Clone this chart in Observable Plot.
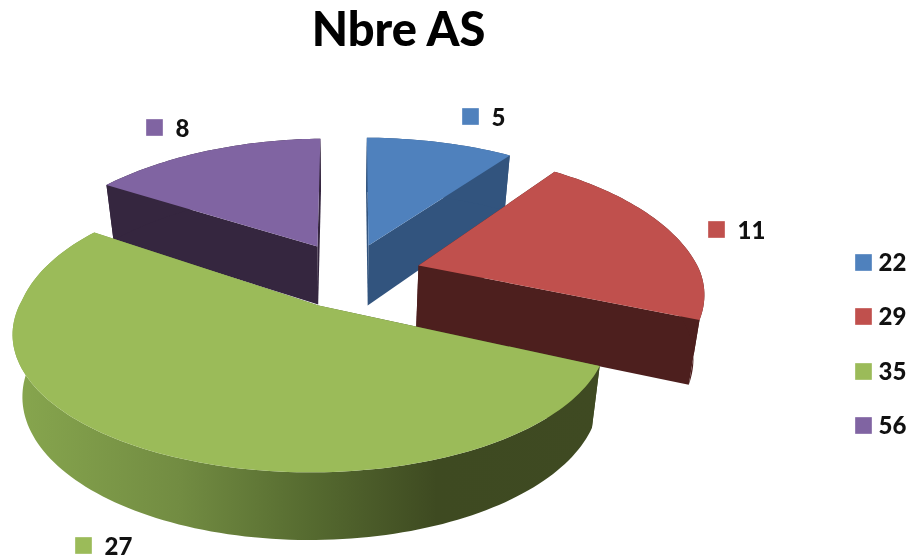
<!DOCTYPE html>
<html>
<head>
<meta charset="utf-8">
<script src="https://cdn.jsdelivr.net/npm/d3@7"></script>
<script src="https://cdn.jsdelivr.net/npm/@observablehq/plot@0.6"></script>
<style>
html,body{margin:0;padding:0;background:#fff}
svg{display:block;filter:blur(.35px)}
</style>
</head>
<body>
<div id="chart"></div>
<script>
// Data
const chartTitle = "Nbre AS";
const sliceValues = [5, 11, 27, 8];
const legendLabels = [22, 29, 35, 56];
const topColors = ["#4f81bd", "#c0504d", "#9bbb59", "#8064a2"];
const wallColors = ["#32547e", "#4d1f1e", "url(#greenWall)", "#35263f"];

// Layout of the exploded 3D view (screen units of the scales)
const apexX = [368, 418, 318, 317];
const apexY = [245, 265, 305, 246];
const widthScale = [1, 0.98, 0.99, 0.96];
const backHeight = [1, 1.06, 1.08, 1];
const skewBySlice = [0, 6, 6, -5.5];
const topShear = [-2, 0, 0, 3.5];
const wallDepth = [60, 63, 60, 58];
const startNudge = [0, -1, 0, 0];
const endNudge = [0, -2.5, -1.5, 0];
const radiusX = 293, radiusY = 131, frontShear = 11;
const tiltK = 0.2146, tiltM = 0.02, converge = 0.03, vanishX = 340;
const drawOrder = [3, 0, 1, 2];
const dataLabelX = [470, 716, 83, 154];
const dataLabelY = [116, 229, 545, 127];
const legendY = [262, 316, 371, 425];

// Geometry from the values: each slice spans its share of the full turn
const total = d3.sum(sliceValues);
const cum = d3.cumsum(sliceValues);
const rad = Math.PI / 180;
const angles = sliceValues.map((v, i) => [(cum[i] - v) / total * 2 * Math.PI + startNudge[i] * rad, cum[i] / total * 2 * Math.PI + endNudge[i] * rad]);

function project(i, u, v, low) {
  const w = 1 + tiltK * v + tiltM * u;
  const x = apexX[i] + (radiusX * widthScale[i] * u + frontShear * Math.min(v, 0) + topShear[i] * Math.max(v, 0)) / w;
  const y = apexY[i] - (radiusY * (v > 0 ? backHeight[i] : 1) * v - skewBySlice[i] * u) / w;
  if (!low) return {x, y};
  return {x: vanishX + (x - vanishX) * (1 - converge), y: y + wallDepth[i] / Math.sqrt(w)};
}
function rim(i, a0, a1, low) {
  const n = Math.max(2, Math.ceil(Math.abs(a1 - a0) * 40));
  return d3.range(n + 1).map(k => {
    const a = a0 + (a1 - a0) * k / n;
    return project(i, Math.sin(a), Math.cos(a), low);
  });
}

const polygons = [];
for (const i of drawOrder) {
  const [a0, a1] = angles[i];
  const radial = a => [project(i, 0, 0, false), project(i, Math.sin(a), Math.cos(a), false),
                       project(i, Math.sin(a), Math.cos(a), true), project(i, 0, 0, true)];
  polygons.push({pts: radial(a0), fill: wallColors[i]});
  polygons.push({pts: radial(a1), fill: wallColors[i]});
  polygons.push({pts: [...rim(i, a0, a1, false), ...rim(i, a1, a0, true)], fill: wallColors[i]});
  polygons.push({pts: [project(i, 0, 0, false), ...rim(i, a0, a1, false)], fill: topColors[i]});
}

const gradient = () => {
  const ns = "http://www.w3.org/2000/svg";
  const defs = document.createElementNS(ns, "defs");
  const g = document.createElementNS(ns, "linearGradient");
  g.setAttribute("id", "greenWall");
  g.setAttribute("gradientUnits", "userSpaceOnUse");
  g.setAttribute("x1", 15); g.setAttribute("x2", 600);
  g.setAttribute("y1", 0); g.setAttribute("y2", 0);
  [[0, "#87a64e"], [0.28, "#728c42"], [0.5, "#566b30"], [0.72, "#3e4a21"], [1, "#3f4a22"]].forEach(([o, c]) => {
    const s = document.createElementNS(ns, "stop");
    s.setAttribute("offset", o); s.setAttribute("stop-color", c);
    g.appendChild(s);
  });
  defs.appendChild(g);
  return defs;
};

const font = "Lato, 'Open Sans', sans-serif";
const idx = d3.range(sliceValues.length);
const chart = Plot.plot({
  width: 912, height: 559,
  margin: 0,
  x: {domain: [0, 912], range: [0, 912], axis: null},
  y: {domain: [0, 559], range: [0, 559], axis: null},
  style: {background: "#fff"},
  marks: [
    gradient,
    ...polygons.map(p => Plot.line(p.pts, {x: "x", y: "y", fill: p.fill, stroke: "none", curve: "linear"})),
    Plot.text([chartTitle], {x: 398, y: 30, text: d => d, fontSize: 47, fontWeight: 900, fontFamily: font, fill: "#000", textAnchor: "middle"}),
    Plot.dot(idx, {x: i => dataLabelX[i], y: i => dataLabelY[i], symbol: "square", r: 9.4, fill: i => topColors[i], stroke: "none"}),
    Plot.text(idx, {x: i => dataLabelX[i] + 21, y: i => dataLabelY[i] + 2, text: i => String(sliceValues[i]), fontSize: 24, fontWeight: 900, fontFamily: font, fill: "#111", textAnchor: "start"}),
    Plot.dot(idx, {x: 863, y: i => legendY[i], symbol: "square", r: 9.4, fill: i => topColors[i], stroke: "none"}),
    Plot.text(idx, {x: 878, y: i => legendY[i] + 1, text: i => String(legendLabels[i]), fontSize: 24, fontWeight: 900, fontFamily: font, fill: "#111", textAnchor: "start"})
  ]
});
document.getElementById("chart").appendChild(chart);
</script>
</body>
</html>
